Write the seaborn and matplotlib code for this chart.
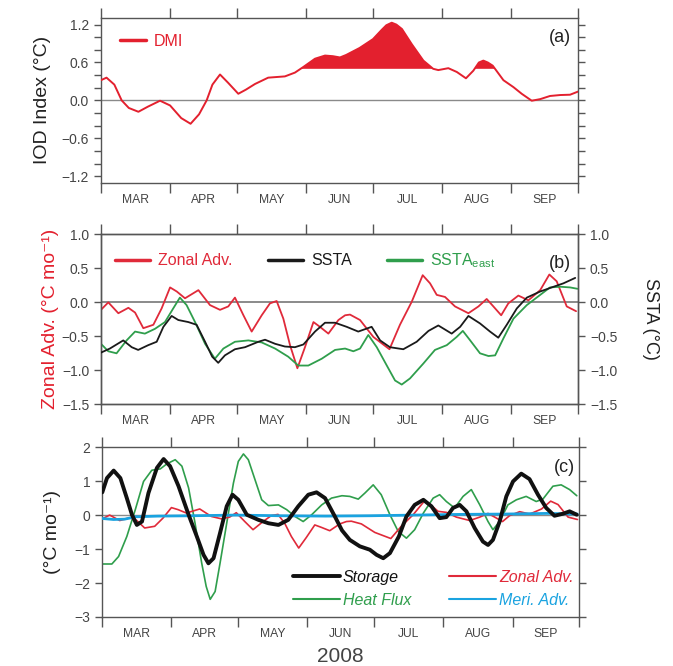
import matplotlib
matplotlib.use("Agg")
import matplotlib.pyplot as plt
import pandas as pd
import seaborn as sns
from matplotlib.lines import Line2D

# Days are counted from 1 March 2008
month_edges = [0, 31, 61, 92, 122, 153, 184, 214]
month_names = ["MAR", "APR", "MAY", "JUN", "JUL", "AUG", "SEP"]

# (a) Dipole Mode Index
dmi_day = [0, 2.5, 6, 9.3, 12.5, 16.8, 21, 26.5, 31, 36, 40.2, 44, 47.4, 50, 53.4,
           57, 61.6, 65, 69.1, 75, 82.5, 87, 90.8, 96, 100.5, 104, 107.2, 110, 116,
           122, 126, 128, 130.4, 132.5, 135, 139.4, 144.6, 149, 151.3, 155.8, 159.6,
           163.7, 167, 169.5, 171.5, 173.5, 175.7, 180.5, 185, 188.7, 193.2, 197,
           201.4, 206, 210.4, 214]
dmi_val = [0.32, 0.36, 0.25, 0.0, -0.12, -0.18, -0.10, -0.005, -0.08, -0.28, -0.37,
           -0.22, 0.0, 0.25, 0.41, 0.28, 0.105, 0.17, 0.26, 0.36, 0.38, 0.44, 0.53,
           0.66, 0.71, 0.70, 0.68, 0.72, 0.83, 0.97, 1.12, 1.19, 1.23, 1.20, 1.13,
           0.89, 0.63, 0.50, 0.48, 0.51, 0.45, 0.35, 0.47, 0.60, 0.63, 0.60, 0.55,
           0.32, 0.21, 0.105, -0.005, 0.02, 0.07, 0.085, 0.09, 0.14]
dmi_threshold = 0.5

# Zonal advection (panels b and c)
zadv_day = [0, 3.3, 7.8, 12.3, 15.3, 19, 23.5, 27.2, 31, 34, 37.7, 43.7, 48.9, 53.4,
            57.1, 60.1, 63.9, 67.6, 72.1, 75.8, 78.8, 81.8, 84.8, 88.1, 91.5, 95.3,
            98.2, 102, 106.5, 109.5, 111.7, 116.2, 122.2, 129.4, 134.1, 139.4, 144.3,
            147.6, 150.6, 154.3, 158.8, 164.8, 169.3, 173, 176, 179.5, 182.7, 187.2,
            191.7, 197, 201.1, 204.4, 208.9, 213.1]
zadv_val = [-0.11, 0.0, -0.16, -0.08, -0.15, -0.38, -0.33, -0.09, 0.22, 0.16, 0.06,
            0.18, -0.04, -0.11, -0.06, 0.07, -0.19, -0.43, -0.19, -0.015, 0.02, -0.24,
            -0.63, -0.97, -0.66, -0.29, -0.36, -0.46, -0.26, -0.19, -0.18, -0.26,
            -0.51, -0.69, -0.33, 0.01, 0.40, 0.28, 0.11, 0.08, -0.06, -0.16, -0.06,
            0.05, -0.06, -0.19, -0.015, 0.10, 0.03, 0.18, 0.41, 0.31, -0.06, -0.13]

# (b) SSTA and eastern-box SSTA
ssta_day = [0, 4, 10, 13.8, 16.7, 21.2, 25, 28, 31.7, 34.7, 39.2, 42.9, 46.7, 49.9,
            52.6, 55.6, 60.1, 64.6, 70.6, 73.6, 78.1, 82.5, 87, 90.8, 96, 100.5, 105,
            110.2, 115.4, 121.4, 125.2, 129.6, 135.6, 141.6, 146.9, 151.3, 157.3,
            161.1, 164.8, 170, 174.5, 178.2, 182, 186.5, 191, 197, 203, 207.4, 212.7]
ssta_val = [-0.74, -0.68, -0.56, -0.66, -0.70, -0.63, -0.58, -0.36, -0.20, -0.26,
            -0.29, -0.33, -0.58, -0.80, -0.89, -0.78, -0.69, -0.66, -0.58, -0.55,
            -0.61, -0.65, -0.66, -0.62, -0.43, -0.30, -0.30, -0.36, -0.43, -0.36,
            -0.56, -0.66, -0.69, -0.58, -0.42, -0.34, -0.46, -0.36, -0.20, -0.31,
            -0.43, -0.52, -0.33, -0.09, 0.07, 0.16, 0.23, 0.28, 0.36]

sstae_day = [0, 3.3, 7, 11.5, 15.3, 19.7, 24.2, 28.7, 32.4, 35.4, 38.4, 42.2, 46.7,
             51.1, 54.9, 60.1, 66.1, 72.1, 78.1, 84, 88.5, 93, 99, 105, 109.5, 113.2,
             116.2, 119.9, 123.7, 128.2, 131.9, 134.9, 138.6, 144.6, 149.8, 155.1,
             159.5, 162.3, 165.6, 170, 173.8, 176.8, 180.5, 185, 191, 197, 201.4,
             206.1, 210.4, 213.7]
sstae_val = [-0.61, -0.72, -0.75, -0.56, -0.43, -0.46, -0.39, -0.29, -0.09, 0.07,
             -0.04, -0.29, -0.61, -0.83, -0.68, -0.58, -0.56, -0.59, -0.68, -0.80,
             -0.93, -0.93, -0.83, -0.70, -0.68, -0.72, -0.68, -0.48, -0.66, -0.93,
             -1.15, -1.21, -1.12, -0.90, -0.70, -0.63, -0.51, -0.42, -0.56, -0.75,
             -0.79, -0.78, -0.53, -0.24, -0.04, 0.11, 0.22, 0.23, 0.22, 0.20]

# (c) mixed-layer heat budget terms
stor_day = [0, 2.1, 5.1, 8.1, 11, 13.3, 15.5, 17.8, 20.7, 24.5, 27.5, 30.4, 34.2,
            38.7, 42.4, 45.4, 47.6, 49.9, 52.8, 55.8, 58.4, 61, 64.8, 70, 74.5, 79,
            83.4, 87.9, 92.4, 96.1, 99.9, 104.3, 107.5, 111, 115.5, 120, 123, 126,
            129, 133, 136.4, 140.1, 144, 147.6, 151.3, 154.3, 157.3, 160.3, 163.3,
            167, 170.7, 173, 175.2, 178.2, 181.2, 184.2, 187.9, 191.6, 195.4, 199.1,
            202.8, 206.6, 209.6, 212.8]
stor_val = [0.67, 1.09, 1.31, 1.09, 0.50, 0.01, -0.29, -0.19, 0.65, 1.39, 1.65, 1.44,
            0.85, 0.01, -0.63, -1.17, -1.42, -1.27, -0.53, 0.26, 0.60, 0.45, 0.01,
            -0.14, -0.24, -0.29, -0.14, 0.26, 0.60, 0.67, 0.50, -0.04, -0.45, -0.73,
            -0.92, -1.02, -1.17, -1.27, -1.12, -0.63, -0.04, 0.30, 0.45, 0.26, -0.09,
            -0.06, 0.21, 0.30, 0.11, -0.38, -0.78, -0.88, -0.73, -0.19, 0.55, 0.99,
            1.22, 1.06, 0.60, 0.21, -0.02, 0.04, 0.11, 0.01]

heat_day = [0, 4.3, 7.3, 11, 14.8, 18.5, 22.2, 26, 29, 32.7, 35.7, 38.7, 41.6, 44.6,
            46.6, 48.4, 50.6, 52.8, 55.8, 58.8, 61, 63.3, 65.5, 68.5, 71.5, 74.5, 79,
            82.7, 86.4, 90.1, 93.9, 98.4, 102.8, 107.5, 111, 114.8, 117.8, 121.5,
            125.1, 129, 132.7, 136.4, 140.1, 144, 148.4, 151.3, 154.3, 158, 161.8,
            165.5, 169.3, 173, 175.2, 178.2, 181.9, 185.7, 190.1, 194.6, 197.6,
            202.1, 205.8, 209.6, 212.8]
heat_val = [-1.44, -1.44, -1.22, -0.63, 0.16, 0.99, 1.32, 1.36, 1.51, 1.63, 1.44,
            0.80, -0.24, -1.42, -2.10, -2.48, -2.25, -1.42, -0.24, 0.94, 1.58, 1.80,
            1.63, 1.04, 0.45, 0.28, 0.30, 0.16, -0.04, -0.19, 0.01, 0.30, 0.50, 0.57,
            0.55, 0.47, 0.65, 0.89, 0.60, 0.01, -0.48, -0.68, -0.43, 0.06, 0.50, 0.60,
            0.40, 0.21, 0.55, 0.75, 0.30, -0.19, -0.43, -0.19, 0.30, 0.45, 0.55, 0.40,
            0.47, 0.85, 0.89, 0.75, 0.57]

meri_day = [0, 5, 10, 15, 25, 40, 60, 80, 100, 120, 140, 160, 180, 200, 213]
meri_val = [-0.10, -0.13, -0.12, -0.05, -0.03, -0.02, 0.0, -0.02, -0.03, -0.02,
            0.0, 0.02, 0.03, 0.05, 0.03]

RED = "#e3202e"
RED2 = "#e02a3a"
GREEN = "#2f9e4c"
BLUE = "#1aa3e0"
FRAME = "#555555"
TXT = "#444444"

sns.set_theme(style="ticks")
plt.rcParams["font.family"] = ["Liberation Sans", "DejaVu Sans"]
plt.rcParams["axes.linewidth"] = 1.0
plt.rcParams["axes.edgecolor"] = FRAME

fig = plt.figure(figsize=(6.73, 6.66), dpi=100)
ax_a = fig.add_axes([0.150, 0.725, 0.709, 0.2485])
ax_b = fig.add_axes([0.150, 0.393, 0.709, 0.255])
ax_c = fig.add_axes([0.152, 0.0736, 0.709, 0.255])


def frame(df_day, df_val):
    return pd.DataFrame({"day": df_day, "value": df_val})


def style_axis(ax, ylim, major, minor=None, labelright=False):
    ax.set_xlim(month_edges[0], month_edges[-1])
    ax.set_ylim(*ylim)
    ax.set_xticks(month_edges)
    ax.set_xticklabels([])
    mids = [(a + b) / 2 for a, b in zip(month_edges[:-1], month_edges[1:])]
    ax.set_xticks(mids, minor=True)
    ax.set_xticklabels(month_names, minor=True)
    ax.tick_params(axis="x", which="major", direction="out", length=7, width=1,
                   color=FRAME, top=True, bottom=True)
    ax.tick_params(axis="x", which="minor", length=0, labelsize=8.7,
                   labelcolor=TXT, pad=8)
    ax.set_yticks(major)
    if minor is not None:
        ax.set_yticks(minor, minor=True)
    ax.tick_params(axis="y", which="both", direction="out", length=5, width=1,
                   color=FRAME, left=True, right=True, labelsize=10,
                   labelcolor=TXT, labelright=labelright)
    ax.set_xlabel("")
    for s in ax.spines.values():
        s.set_visible(True)
        s.set_color(FRAME)


# ---- (a) DMI ----
dmi = frame(dmi_day, dmi_val)
ax_a.axhline(0, color="#8a8a8a", lw=1, zorder=1)
ax_a.fill_between(dmi["day"], dmi["value"], dmi_threshold,
                  where=dmi["value"] >= dmi_threshold, interpolate=True,
                  color=RED, lw=0, zorder=2)
sns.lineplot(data=dmi, x="day", y="value", ax=ax_a, color=RED, lw=1.4, zorder=3)
style_axis(ax_a, (-1.31, 1.31), [-1.2, -0.6, 0.0, 0.6, 1.2],
           minor=[-1.2 + 0.2 * i for i in range(13)])
ax_a.set_yticklabels(["\u22121.2", "\u22120.6", "0.0", "0.6", "1.2"])
ax_a.set_ylabel("IOD Index (\u00b0C)", fontsize=14, color="#222222", labelpad=8)
ax_a.text(0.985, 0.93, "(a)", transform=ax_a.transAxes, ha="right", va="top",
          fontsize=13, color="#222222")
ax_a.legend(handles=[Line2D([], [], color=RED, lw=2.5)], labels=["DMI"],
            loc="upper left", bbox_to_anchor=(0.01, 0.99), frameon=False,
            handlelength=1.6, handletextpad=0.5, labelcolor=[RED], fontsize=11.5)

# ---- (b) Zonal advection vs SSTA ----
ax_b.axhline(0, color="#8a8a8a", lw=1.4, zorder=1)
sns.lineplot(data=frame(zadv_day, zadv_val), x="day", y="value", ax=ax_b,
             color=RED2, lw=1.3, zorder=4)
ax_b2 = ax_b.twinx()
sns.lineplot(data=frame(sstae_day, sstae_val), x="day", y="value", ax=ax_b2,
             color=GREEN, lw=1.3, zorder=2)
sns.lineplot(data=frame(ssta_day, ssta_val), x="day", y="value", ax=ax_b2,
             color="#1a1a1a", lw=1.3, zorder=3)
yt_b = [-1.5, -1.0, -0.5, 0.0, 0.5, 1.0]
yl_b = ["\u22121.5", "\u22121.0", "\u22120.5", "0.0", "0.5", "1.0"]
style_axis(ax_b, (-1.5, 1.0), yt_b)
ax_b.set_yticklabels(yl_b)
ax_b.tick_params(axis="y", right=False)
ax_b2.set_ylim(-1.5, 1.0)
ax_b2.set_yticks(yt_b)
ax_b2.set_yticklabels(yl_b)
ax_b2.tick_params(axis="y", direction="out", length=5, width=1, color=FRAME,
                  labelsize=10, labelcolor=TXT)
for s in ax_b2.spines.values():
    s.set_color(FRAME)
ax_b.set_ylabel("Zonal Adv. (\u00b0C mo\u207b\u00b9)", fontsize=14, color=RED,
                labelpad=2)
ax_b2.set_ylabel("SSTA (\u00b0C)", fontsize=13, color="#222222", rotation=270,
                 labelpad=30)
ax_b2.text(0.985, 0.88, "(b)", transform=ax_b2.transAxes, ha="right", va="top",
           fontsize=13, color="#222222")
hb = [Line2D([], [], color=RED2, lw=2.5), Line2D([], [], color="#1a1a1a", lw=2.5),
      Line2D([], [], color=GREEN, lw=2.5)]
ax_b2.legend(handles=hb, labels=["Zonal Adv.", "SSTA", "SSTA$_{\\mathregular{east}}$"],
             loc="upper left", bbox_to_anchor=(0.0, 0.985), ncol=3, frameon=False,
             handlelength=2.2, handletextpad=0.5, columnspacing=2.2,
             labelcolor=[RED2, "#1a1a1a", GREEN], fontsize=11.5)

# ---- (c) heat budget ----
ax_c.axhline(0, color="#8a8a8a", lw=1, zorder=1)
sns.lineplot(data=frame(heat_day, heat_val), x="day", y="value", ax=ax_c,
             color=GREEN, lw=1.2, zorder=2)
sns.lineplot(data=frame(zadv_day, zadv_val), x="day", y="value", ax=ax_c,
             color=RED2, lw=1.2, zorder=3)
sns.lineplot(data=frame(meri_day, meri_val), x="day", y="value", ax=ax_c,
             color=BLUE, lw=2.0, zorder=4)
sns.lineplot(data=frame(stor_day, stor_val), x="day", y="value", ax=ax_c,
             color="#111111", lw=2.8, zorder=5)
style_axis(ax_c, (-3, 2), [-3, -2, -1, 0, 1, 2])
ax_c.set_yticklabels(["\u22123", "\u22122", "\u22121", "0", "1", "2"])
ax_c.set_ylabel("(\u00b0C mo\u207b\u00b9)", fontsize=14, color="#222222", labelpad=10)
ax_c.text(0.99, 0.93, "(c)", transform=ax_c.transAxes, ha="right", va="top",
          fontsize=13, color="#222222")
hc = [Line2D([], [], color="#111111", lw=2.8), Line2D([], [], color=GREEN, lw=1.5),
      Line2D([], [], color=RED2, lw=1.5), Line2D([], [], color=BLUE, lw=1.5)]
ax_c.legend(handles=hc, labels=["Storage", "Heat Flux", "Zonal Adv.", "Meri. Adv."],
            loc="lower left", bbox_to_anchor=(0.37, -0.03), ncol=2, frameon=False,
            handlelength=2.9, handletextpad=0.2, columnspacing=2.4,
            labelspacing=0.5,
            labelcolor=["#111111", GREEN, RED2, BLUE],
            prop={"style": "italic", "size": 11.5})

fig.text(0.505, 0.0, "2008", ha="center", va="bottom", fontsize=15, color=TXT)

fig.savefig("out.png", dpi=100)
